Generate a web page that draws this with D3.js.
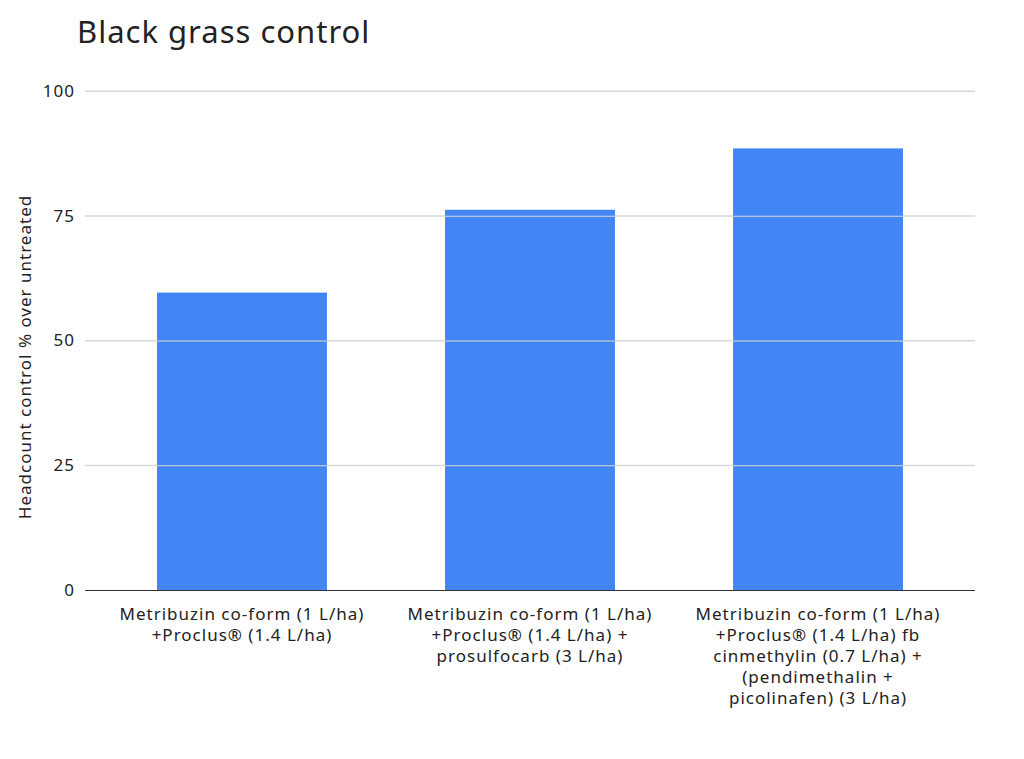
<!DOCTYPE html>
<html><head><meta charset="utf-8">
<script src="https://cdn.jsdelivr.net/npm/d3@7"></script>
<style>body{margin:0;background:#fff;font-family:"Noto Sans",sans-serif;} text{letter-spacing:1px;}</style>
</head><body>
<svg id="chart" width="1024" height="759"></svg>
<script>
var categories = [
  ["Metribuzin co-form (1 L/ha)", "+Proclus\u00ae (1.4 L/ha)"],
  ["Metribuzin co-form (1 L/ha)", "+Proclus\u00ae (1.4 L/ha) +", "prosulfocarb (3 L/ha)"],
  ["Metribuzin co-form (1 L/ha)", "+Proclus\u00ae (1.4 L/ha) fb", "cinmethylin (0.7 L/ha) +", "(pendimethalin +", "picolinafen) (3 L/ha)"]
];
var values = [59.6, 76.2, 88.5];
var yTicks = [0, 25, 50, 75, 100];

var svg = d3.select('#chart');
var mLeft = 85, mRight = 975, mTop = 91, mBottom = 590;

var x = d3.scaleBand().domain(d3.range(values.length)).range([mLeft, mRight]).paddingInner(0.41).paddingOuter(0.25);
var y = d3.scaleLinear().domain([0, 100]).range([mBottom, mTop]);

svg.append('text').attr('x', 77).attr('y', 43).attr('font-size', 31).attr('fill', '#222')
  .text('Black grass control');

// gridlines + tick labels
var yAxis = svg.append('g').attr('transform', 'translate(' + mLeft + ',0)')
  .call(d3.axisLeft(y).tickValues(yTicks).tickSize(-(mRight - mLeft)).tickPadding(10));
yAxis.select('.domain').remove();
yAxis.selectAll('.tick line').attr('stroke', function(d) { return d === 0 ? '#333' : '#d9d9d9'; });
yAxis.selectAll('.tick text').attr('font-size', 17).attr('fill', '#222').attr('font-family', '"Noto Sans",sans-serif');

svg.selectAll('rect.bar').data(values).enter().append('rect').attr('class', 'bar')
  .attr('x', function(d, i) { return x(i); })
  .attr('width', x.bandwidth())
  .attr('y', function(d) { return y(d); })
  .attr('height', function(d) { return mBottom - y(d); })
  .attr('fill', '#4285f4');
// baseline above bars, gridlines below
yAxis.raise();
yAxis.selectAll('.tick').filter(function(d) { return d !== 0; }).select('line').attr('stroke', '#d9d9d9');
svg.insert('g', 'rect').selectAll('line').data(yTicks.filter(function(d) { return d; })).enter().append('line')
  .attr('x1', mLeft).attr('x2', mRight).attr('y1', y).attr('y2', y).attr('stroke', '#d9d9d9');

svg.selectAll('text.cat').data(categories).enter().append('text').attr('class', 'cat')
  .attr('text-anchor', 'middle').attr('font-size', 17).attr('fill', '#222')
  .each(function(lines, i) {
    var t = d3.select(this);
    lines.forEach(function(l, j) {
      t.append('tspan').attr('x', x(i) + x.bandwidth() / 2).attr('y', 620 + j * 21).text(l);
    });
  });

svg.append('text').attr('transform', 'translate(31,357) rotate(-90)')
  .attr('text-anchor', 'middle').attr('font-size', 17).attr('fill', '#222')
  .text('Headcount control % over untreated');
</script>
</body></html>
